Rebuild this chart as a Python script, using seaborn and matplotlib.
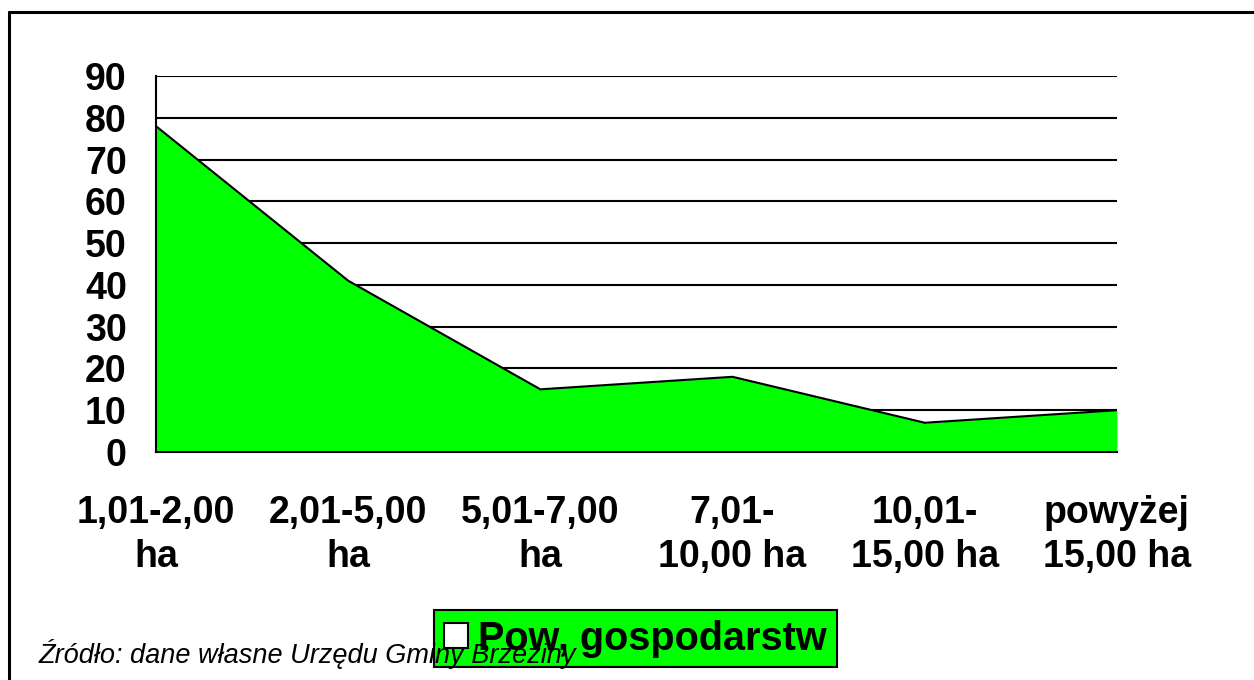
import matplotlib
matplotlib.use("Agg")
import matplotlib.pyplot as plt
import seaborn as sns
import pandas as pd
from matplotlib.lines import Line2D

# area sizes of farms and their count
kategorie = ["1,01-2,00\nha", "2,01-5,00\nha", "5,01-7,00\nha",
             "7,01-\n10,00 ha", "10,01-\n15,00 ha", "powyżej\n15,00 ha"]
liczba = [78, 41, 15, 18, 7, 10]
y_ticks = [0, 10, 20, 30, 40, 50, 60, 70, 80, 90]
seria = "Pow, gospodarstw"
zrodlo = "Źródło: dane własne Urzędu Gminy Brzeziny"

df = pd.DataFrame({"kat": kategorie, "val": liczba})

sns.set_style("white")
plt.rcParams["font.family"] = ["Liberation Sans", "DejaVu Sans"]
plt.rcParams["text.color"] = "black"
plt.rcParams["xtick.color"] = "black"
plt.rcParams["ytick.color"] = "black"

fig = plt.figure(figsize=(12.54, 6.8), dpi=100)
ax = fig.add_axes([0.1244, 0.3353, 0.7663, 0.5529])

pos = list(range(len(kategorie)))
ax.fill_between(pos, df["val"], 0, color="#00FF00", linewidth=0, zorder=2, label=seria)
sns.lineplot(x=pos, y=df["val"], ax=ax, color="black", linewidth=1.5, zorder=3)

ax.set_xlim(0, len(kategorie) - 1)
ax.set_ylim(0, 90)
ax.set_yticks(y_ticks)
ax.set_xticks(pos)
ax.set_xticklabels(kategorie, fontsize=27, fontweight="bold", linespacing=1.3, color="black")
ax.set_yticklabels([str(t) for t in y_ticks], fontsize=27, fontweight="bold", color="black")
ax.set_xlabel("")
ax.set_ylabel("")

ax.grid(axis="y", color="black", linewidth=1.5, zorder=1)
ax.grid(axis="x", visible=False)
ax.set_axisbelow(True)
for s in ["top", "right"]:
    ax.spines[s].set_visible(False)
for s in ["left", "bottom"]:
    ax.spines[s].set_color("black")
    ax.spines[s].set_linewidth(1.5)
    ax.spines[s].set_zorder(4)
ax.tick_params(axis="y", direction="out", length=7, width=1.5, color="black", pad=14)
ax.tick_params(axis="x", direction="out", length=7, width=1.5, color="black", pad=24)
if ax.get_legend():
    ax.get_legend().remove()

handles, labels = ax.get_legend_handles_labels()
leg = fig.legend(handles[:1], labels[:1], loc="center", bbox_to_anchor=(0.5068, 0.0610),
                 prop={"size": 28.5, "weight": "bold"}, frameon=True, fancybox=False,
                 facecolor="#00FF00", edgecolor="black", framealpha=1,
                 handlelength=0.6, handleheight=0.6, handletextpad=0.25,
                 borderpad=0.25, borderaxespad=0)
leg.get_frame().set_linewidth(1.5)
for h in leg.legend_handles:
    h.set_facecolor("white")
    h.set_edgecolor("black")
    h.set_linewidth(1.5)
for t in leg.get_texts():
    t.set_color("black")

fig.text(0.031, 0.025, zrodlo, fontsize=19.5, style="italic", ha="left", va="baseline",
         color="black", zorder=10)

# outer frame (left and top edges visible)
fig.add_artist(Line2D([8.5 / 1254, 8.5 / 1254], [0, 1 - 12 / 680], color="black", linewidth=2.2,
                      transform=fig.transFigure))
fig.add_artist(Line2D([8.5 / 1254, 1], [1 - 12 / 680, 1 - 12 / 680], color="black", linewidth=2.2,
                      transform=fig.transFigure))

fig.savefig("out.png", dpi=100)
